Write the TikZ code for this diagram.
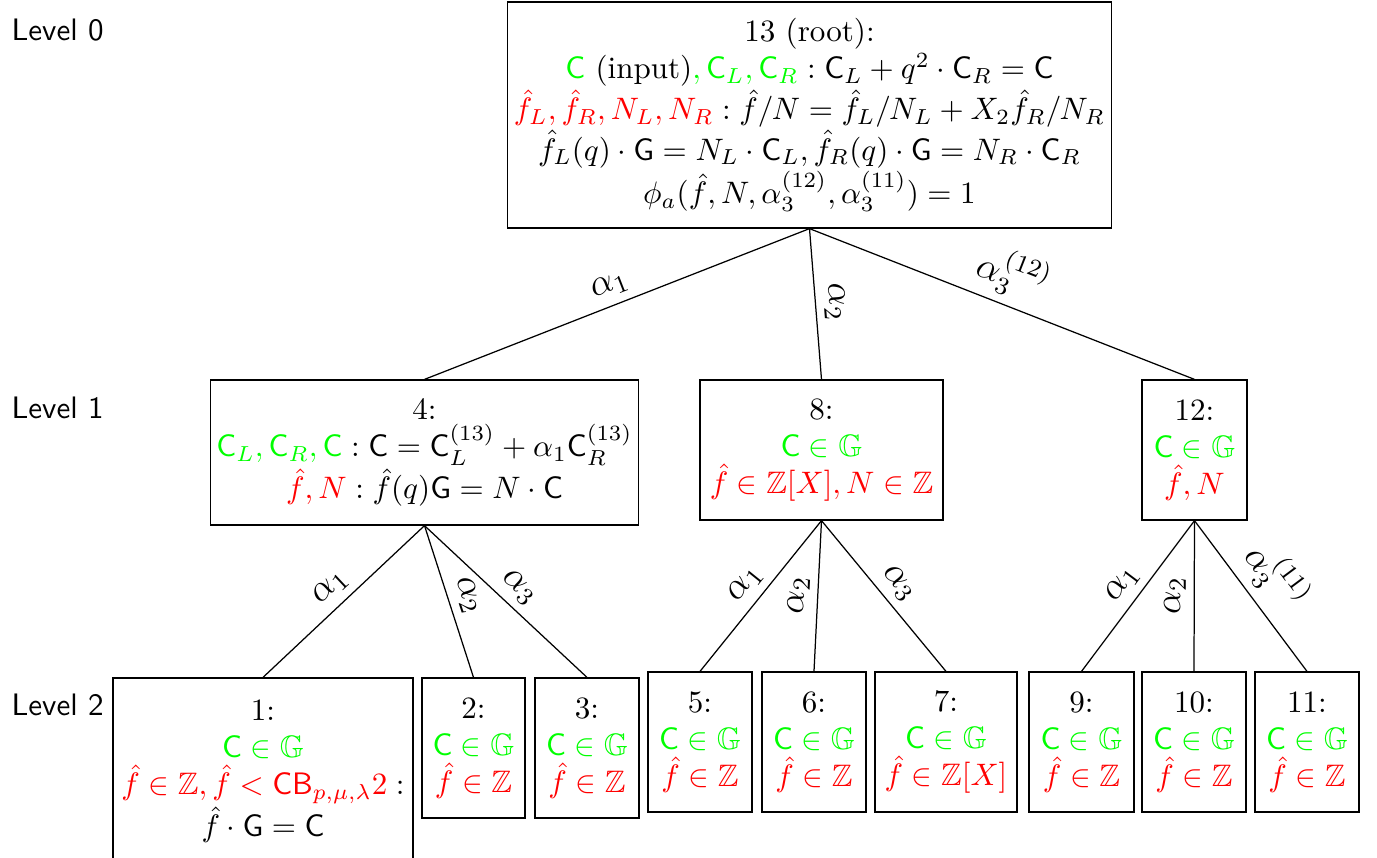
\documentclass[tikz,border=0pt]{standalone}
\usepackage{amsmath,amssymb}
\usepackage{xcolor}
\begin{document}
\begin{tikzpicture}[x=0.322pt,y=-0.322pt,
  box/.style n args={2}{draw, align=center, inner sep=2pt,
    minimum width=#1*0.322pt, minimum height=#2*0.322pt},
  lab/.style={sloped, above, midway, font=\large, inner sep=2.5pt},
  lvl/.style={font=\sffamily, anchor=base west, inner sep=0pt}]
\useasboundingbox (0,0) rectangle (1377,858);
\newcommand{\gC}{\mathsf{C}}
\newcommand{\gG}{\mathsf{G}}
\newcommand{\inG}{{\color{green}$\gC\in\mathbb{G}$}}
\newcommand{\inZ}{{\color{red}$\hat f\in\mathbb{Z}$}}

\node[lvl] (l0) at (11,40) {Level 0};
\node[lvl] (l1) at (11,418) {Level 1};
\node[lvl] (l2) at (11,715) {Level 2};

\node[box={599}{226}] (n13) at (809.5,115) {13 (root):\\
  ${\color{green}\gC}$ (input)${\color{green},\gC_L,\gC_R} : \gC_L + q^2\cdot\gC_R = \gC$\\
  ${\color{red}\hat f_L,\hat f_R,N_L,N_R} : \hat f/N = \hat f_L/N_L + X_2\hat f_R/N_R$\\
  $\hat f_L(q)\cdot\gG = N_L\cdot\gC_L, \hat f_R(q)\cdot\gG = N_R\cdot\gC_R$\\
  $\phi_a(\hat f, N, \alpha_3^{(12)}, \alpha_3^{(11)}) = 1$};

\node[box={425}{145}] (n4) at (424.5,452.5) {4:\\
  ${\color{green}\gC_L,\gC_R,\gC} : \gC = \gC_L^{(13)} + \alpha_1\gC_R^{(13)}$\\
  ${\color{red}\hat f,N} : \hat f(q)\gG = N\cdot\gC$};
\node[box={243}{140}] (n8) at (821.5,450) {8:\\ \inG\\
  {\color{red}$\hat f\in\mathbb{Z}[X],N\in\mathbb{Z}$}};
\node[box={105}{140}] (n12) at (1194.5,450) {12:\\ \inG\\
  {\color{red}$\hat f,N$}};

\node[box={300}{186}] (n1) at (263,771) {1:\\ \inG\\
  ${\color{red}\hat f\in\mathbb{Z},\hat f<\mathsf{CB}_{p,\mu,\lambda}2} :$\\
  $\hat f\cdot\gG = \gC$};
\node[box={103}{140}] (n2) at (473.5,748) {2:\\ \inG\\ \inZ};
\node[box={104}{140}] (n3) at (587,748) {3:\\ \inG\\ \inZ};
\node[box={104}{140}] (n5) at (700,742) {5:\\ \inG\\ \inZ};
\node[box={104}{140}] (n6) at (814,742) {6:\\ \inG\\ \inZ};
\node[box={142}{140}] (n7) at (946,742) {7:\\ \inG\\
  {\color{red}$\hat f\in\mathbb{Z}[X]$}};
\node[box={105}{140}] (n9) at (1081.5,742) {9:\\ \inG\\ \inZ};
\node[box={104}{140}] (n10) at (1194,742) {10:\\ \inG\\ \inZ};
\node[box={104}{140}] (n11) at (1307,742) {11:\\ \inG\\ \inZ};

\draw (n13.south) -- node[lab] {$\alpha_1$} (n4.north);
\draw (n13.south) -- node[lab] {$\alpha_2$} (n8.north);
\draw (n13.south) -- node[lab] {$\alpha_3^{(12)}$} (n12.north);
\draw (n4.south) -- node[lab] {$\alpha_1$} (n1.north);
\draw (n4.south) -- node[lab] {$\alpha_2$} (n2.north);
\draw (n4.south) -- node[lab] {$\alpha_3$} (n3.north);
\draw (n8.south) -- node[lab] {$\alpha_1$} (n5.north);
\draw (n8.south) -- node[lab] {$\alpha_2$} (n6.north);
\draw (n8.south) -- node[lab] {$\alpha_3$} (n7.north);
\draw (n12.south) -- node[lab] {$\alpha_1$} (n9.north);
\draw (n12.south) -- node[lab] {$\alpha_2$} (n10.north);
\draw (n12.south) -- node[lab] {$\alpha_3^{(11)}$} (n11.north);
\end{tikzpicture}
\end{document}
